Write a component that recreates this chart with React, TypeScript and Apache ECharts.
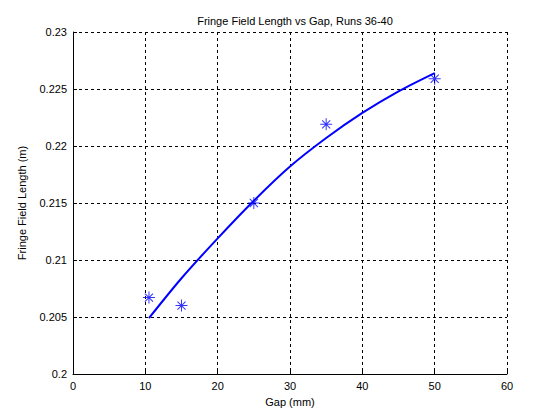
import React, { useEffect, useRef } from "react";
import * as echarts from "echarts";

const measuredGap = [10.5, 15, 25, 35, 50];
const measuredLength = [0.2067, 0.206, 0.215, 0.2219, 0.2259];

const fitGap = [10.5, 15, 20, 25, 30, 35, 40, 45, 50];
const fitLength = [0.2049, 0.2084, 0.2119, 0.2152, 0.2182, 0.2207, 0.2229, 0.2248, 0.2264];

const asterisk =
  "path://M5.5 0 h1 v12 h-1 Z M0 5.5 h12 v1 h-12 Z M1.6 2.3 L2.3 1.6 L10.4 9.7 L9.7 10.4 Z M9.7 1.6 L10.4 2.3 L2.3 10.4 L1.6 9.7 Z";

const font = "Liberation Sans, Arial, sans-serif";

export default function App() {
  const ref = useRef<HTMLDivElement>(null);
  useEffect(() => {
    if (!ref.current) return;
    const chart = echarts.init(ref.current, undefined, { renderer: "svg" });
    chart.setOption({
      animation: false,
      backgroundColor: "#fff",
      title: {
        text: "Fringe Field Length vs Gap, Runs 36-40",
        left: 290,
        textAlign: "center",
        top: 10,
        textStyle: { fontFamily: font, fontSize: 11, fontWeight: "normal", color: "#000" },
      },
      grid: { left: 73, top: 32, right: 53, bottom: 46, containLabel: false },
      xAxis: {
        type: "value",
        min: 0,
        max: 60,
        interval: 10,
        name: "Gap (mm)",
        nameLocation: "middle",
        nameGap: 22,
        nameTextStyle: { fontFamily: font, fontSize: 11, color: "#000" },
        axisLine: { show: true, onZero: false, lineStyle: { color: "#000", width: 1 } },
        axisTick: { show: true, inside: true, length: 4, lineStyle: { color: "#000" } },
        axisLabel: { fontFamily: font, fontSize: 11, color: "#000", margin: 6 },
        splitLine: { show: true, lineStyle: { color: "#000", type: [3, 3], width: 1 } },
      },
      yAxis: {
        type: "value",
        min: 0.2,
        max: 0.23,
        interval: 0.005,
        name: "Fringe Field Length (m)",
        nameLocation: "middle",
        nameGap: 46,
        nameTextStyle: { fontFamily: font, fontSize: 11, color: "#000" },
        axisLine: { show: true, lineStyle: { color: "#000", width: 1 } },
        axisTick: { show: true, inside: true, length: 4, lineStyle: { color: "#000" } },
        axisLabel: {
          fontFamily: font,
          fontSize: 11,
          color: "#000",
          margin: 6,
          formatter: (v: number) => String(parseFloat(v.toFixed(4))),
        },
        splitLine: { show: true, lineStyle: { color: "#000", type: [3, 3], width: 1 } },
      },
      series: [
        {
          type: "line",
          data: fitGap.map((g, i) => [g, fitLength[i]]),
          smooth: 0.3,
          symbol: "none",
          lineStyle: { color: "#0000ff", width: 2 },
          z: 3,
        },
        {
          type: "scatter",
          data: measuredGap.map((g, i) => [g, measuredLength[i]]),
          symbol: asterisk,
          symbolSize: 12,
          itemStyle: { color: "#0000ff" },
          z: 4,
        },
      ],
    });
    return () => chart.dispose();
  }, []);
  return <div ref={ref} style={{ width: 560, height: 420, margin: -8 }} />;
}
